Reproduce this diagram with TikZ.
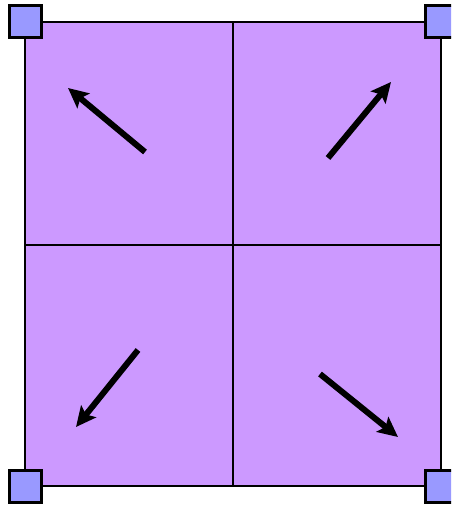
\documentclass[tikz,border=0pt]{standalone}
\usetikzlibrary{arrows.meta}
\definecolor{cellfill}{HTML}{CC99FF}
\definecolor{cornerfill}{HTML}{9999FF}
\tikzset{
  grid line/.style={line width=1.4pt, draw=black},
  corner box/.style={draw=black, line width=1.5pt, fill=cornerfill, minimum size=16pt, inner sep=0pt, outer sep=0pt},
  move arrow/.style={line width=3pt, -{Stealth[length=10pt,width=9.5pt,inset=2pt]}, draw=black}
}
\begin{document}
\begin{tikzpicture}[x=0.5pt,y=-0.5pt]
\useasboundingbox (0,0) rectangle (451,506);
\clip (0,0) rectangle (451,506);
\fill[cellfill] (25,22) rectangle (441,486);
\draw[grid line] (25,22) rectangle (441,486);
\coordinate (tm) at (233,22);
\coordinate (bm) at (233,486);
\coordinate (lm) at (25,245);
\coordinate (rm) at (441,245);
\draw[grid line] (tm) -- (bm);
\draw[grid line] (lm) -- (rm);
\node[corner box] (c1) at (25,22) {};
\node[corner box] (c2) at (441,22) {};
\node[corner box] (c3) at (25,486) {};
\node[corner box] (c4) at (441,486) {};
\coordinate (a1s) at (145,152); \coordinate (a1e) at (68,88);
\coordinate (a2s) at (328,158); \coordinate (a2e) at (391,82);
\coordinate (a3s) at (138,350); \coordinate (a3e) at (76,427);
\coordinate (a4s) at (320,374); \coordinate (a4e) at (398,437);
\draw[move arrow] (a1s) -- (a1e);
\draw[move arrow] (a2s) -- (a2e);
\draw[move arrow] (a3s) -- (a3e);
\draw[move arrow] (a4s) -- (a4e);
\end{tikzpicture}
\end{document}
